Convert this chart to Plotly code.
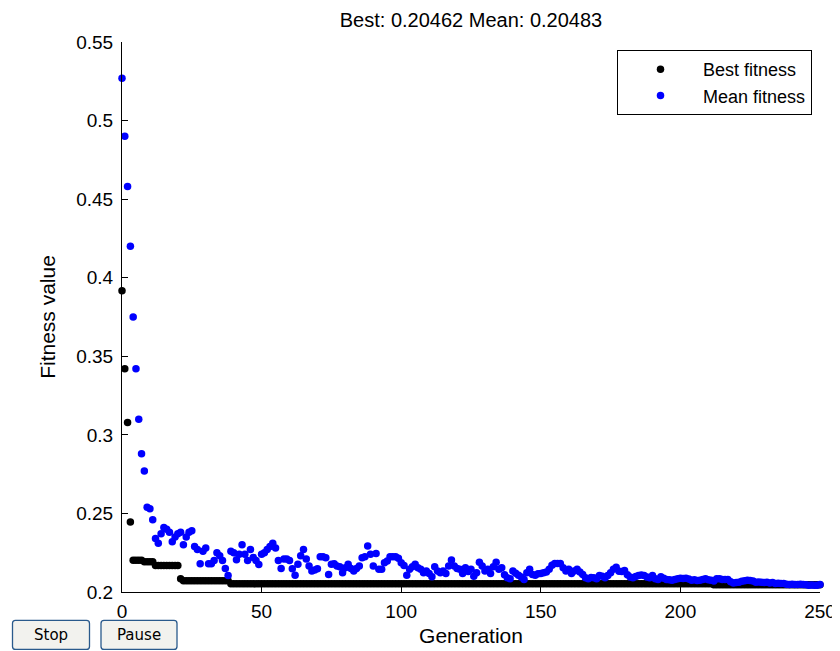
import plotly.graph_objects as go

title_text = "Best: 0.20462 Mean: 0.20483"
x_ticks = [0, 50, 100, 150, 200, 250]
y_ticks = [0.2, 0.25, 0.3, 0.35, 0.4, 0.45, 0.5, 0.55]
y_tick_labels = ["0.2", "0.25", "0.3", "0.35", "0.4", "0.45", "0.5", "0.55"]
button_labels = ["Stop", "Pause"]

generations = list(range(0, 251))

best_fitness = [
    0.3917, 0.3420, 0.3078, 0.2445, 0.2202, 0.2202, 0.2202, 0.2202, 0.2192, 0.2192,
    0.2192, 0.2192, 0.2168, 0.2168, 0.2168, 0.2168, 0.2168, 0.2168, 0.2168, 0.2168,
    0.2168, 0.2085, 0.2072, 0.2072, 0.2072, 0.2072, 0.2072, 0.2072, 0.2072, 0.2072,
    0.2072, 0.2072, 0.2072, 0.2072, 0.2072, 0.2072, 0.2072, 0.2072, 0.2072, 0.2052,
    0.2052, 0.2052, 0.2052, 0.2052, 0.2052, 0.2052, 0.2052, 0.2052, 0.2052, 0.2052,
    0.2052, 0.2052, 0.2052, 0.2052, 0.2052, 0.2052, 0.2052, 0.2052, 0.2052, 0.2052,
    0.2052, 0.2052, 0.2052, 0.2052, 0.2052, 0.2052, 0.2052, 0.2052, 0.2052, 0.2052,
    0.2052, 0.2052, 0.2052, 0.2052, 0.2052, 0.2052, 0.2052, 0.2052, 0.2052, 0.2052,
    0.2052, 0.2052, 0.2052, 0.2052, 0.2052, 0.2052, 0.2052, 0.2052, 0.2052, 0.2052,
    0.2052, 0.2052, 0.2052, 0.2052, 0.2052, 0.2052, 0.2052, 0.2052, 0.2052, 0.2052,
    0.2052, 0.2052, 0.2052, 0.2052, 0.2052, 0.2052, 0.2052, 0.2052, 0.2052, 0.2052,
    0.2052, 0.2052, 0.2052, 0.2052, 0.2052, 0.2052, 0.2052, 0.2052, 0.2052, 0.2052,
    0.2052, 0.2052, 0.2052, 0.2052, 0.2052, 0.2052, 0.2052, 0.2052, 0.2052, 0.2052,
    0.2052, 0.2052, 0.2052, 0.2052, 0.2052, 0.2052, 0.2052, 0.2052, 0.2052, 0.2052,
    0.2052, 0.2052, 0.2052, 0.2052, 0.2052, 0.2052, 0.2052, 0.2052, 0.2052, 0.2052,
    0.2052, 0.2052, 0.2052, 0.2052, 0.2052, 0.2052, 0.2052, 0.2052, 0.2052, 0.2052,
    0.2052, 0.2052, 0.2052, 0.2052, 0.2052, 0.2052, 0.2052, 0.2052, 0.2052, 0.2052,
    0.2052, 0.2052, 0.2052, 0.2052, 0.2052, 0.2052, 0.2052, 0.2052, 0.2052, 0.2052,
    0.2052, 0.2052, 0.2052, 0.2052, 0.2052, 0.2052, 0.2052, 0.2052, 0.2052, 0.2052,
    0.2052, 0.2052, 0.2052, 0.2052, 0.2052, 0.2052, 0.2052, 0.2052, 0.2052, 0.2052,
    0.2052, 0.2052, 0.2052, 0.2052, 0.2052, 0.2052, 0.2052, 0.2052, 0.2052, 0.2052,
    0.2052, 0.2052, 0.20462, 0.20462, 0.20462, 0.20462, 0.20462, 0.20462, 0.20462, 0.20462,
    0.20462, 0.20462, 0.20462, 0.20462, 0.20462, 0.20462, 0.20462, 0.20462, 0.20462, 0.20462,
    0.20462, 0.20462, 0.20462, 0.20462, 0.20462, 0.20462, 0.20462, 0.20462, 0.20462, 0.20462,
    0.20462, 0.20462, 0.20462, 0.20462, 0.20462, 0.20462, 0.20462, 0.20462, 0.20462, 0.20462,
    0.20462,
]

mean_fitness = [
    0.527, 0.490, 0.458, 0.420, 0.375, 0.342, 0.310, 0.288, 0.277, 0.254,
    0.253, 0.246, 0.234, 0.231, 0.237, 0.241, 0.240, 0.238, 0.232, 0.235,
    0.237, 0.238, 0.230, 0.235, 0.238, 0.239, 0.229, 0.227, 0.218, 0.226,
    0.228, 0.218, 0.218, 0.220, 0.225, 0.223, 0.220, 0.215, 0.2105, 0.226,
    0.225, 0.2205, 0.224, 0.230, 0.224, 0.220, 0.227, 0.222, 0.220, 0.2175,
    0.224, 0.225, 0.227, 0.229, 0.231, 0.228, 0.220, 0.215, 0.221, 0.221,
    0.220, 0.2148, 0.2106, 0.2176, 0.223, 0.227, 0.221, 0.2165, 0.2133, 0.214,
    0.2148, 0.2225, 0.2225, 0.2218, 0.2112, 0.2176, 0.218, 0.2165, 0.216, 0.2123,
    0.2155, 0.2176, 0.215, 0.2133, 0.215, 0.2165, 0.2218, 0.2225, 0.2292, 0.224,
    0.2165, 0.2245, 0.2144, 0.2144, 0.2186, 0.2197, 0.2225, 0.2225, 0.2225, 0.2215,
    0.2186, 0.2169, 0.2106, 0.2144, 0.2160, 0.2176, 0.2155, 0.2144, 0.2123, 0.2133,
    0.2118, 0.2097, 0.2161, 0.2133, 0.2123, 0.2133, 0.2118, 0.2165, 0.2203, 0.2165,
    0.2150, 0.2144, 0.2118, 0.2155, 0.2130, 0.2144, 0.2101, 0.2123, 0.2190, 0.2165,
    0.2133, 0.2144, 0.2118, 0.2160, 0.2190, 0.2144, 0.2155, 0.2110, 0.2090, 0.2085,
    0.2133, 0.2120, 0.2106, 0.2095, 0.2080, 0.2123, 0.2144, 0.2112, 0.2106, 0.2116,
    0.2118, 0.2123, 0.2127, 0.2144, 0.2170, 0.2182, 0.2182, 0.2182, 0.2155, 0.2133,
    0.2144, 0.2118, 0.2133, 0.2144, 0.2127, 0.2112, 0.2090, 0.2085, 0.2092, 0.2090,
    0.2085, 0.2105, 0.2100, 0.2090, 0.2105, 0.2122, 0.2145, 0.2158, 0.2132, 0.2130,
    0.2137, 0.2110, 0.2095, 0.2090, 0.2098, 0.2105, 0.2108, 0.2105, 0.2095, 0.2090,
    0.2105, 0.2085, 0.2079, 0.2097, 0.2088, 0.2079, 0.2078, 0.2075, 0.2080, 0.2084,
    0.2088, 0.2086, 0.2088, 0.2082, 0.2075, 0.2078, 0.2073, 0.2075, 0.2080, 0.2084,
    0.2078, 0.2075, 0.2070, 0.2084, 0.2084, 0.2080, 0.2079, 0.2079, 0.2065, 0.2058,
    0.2060, 0.2062, 0.2068, 0.2072, 0.2075, 0.2073, 0.2070, 0.2062, 0.2064, 0.2062,
    0.2060, 0.2062, 0.2058, 0.2060, 0.2054, 0.2056, 0.2054, 0.2054, 0.2050, 0.2048,
    0.2050, 0.2048, 0.2048, 0.2050, 0.2048, 0.2046, 0.2043, 0.2045, 0.2043, 0.2043,
    0.20483,
]

assert len(best_fitness) == len(generations) == len(mean_fitness)

FONT = "Liberation Sans, Arial, Helvetica, sans-serif"

fig = go.Figure()
fig.add_trace(go.Scatter(
    x=generations, y=best_fitness, mode="markers", name="Best fitness",
    marker=dict(color="#000000", size=7.5), cliponaxis=False,
))
fig.add_trace(go.Scatter(
    x=generations, y=mean_fitness, mode="markers", name="Mean fitness",
    marker=dict(color="#0000ff", size=7.5), cliponaxis=False,
))

# The page body has an 8px default margin: build the figure 8px smaller and
# express every position in window pixels, shifted by that offset.
OFF = 8
W, H = 840 - OFF, 651 - OFF
L = 122 - OFF
T = 42 - OFF
R = W - (820 - OFF)
B = H - (592.5 - OFF)
pw, ph = W - L - R, H - T - B


def px_x(px):
    return (px - OFF - L) / pw


def px_y(py):
    return (H - B - (py - OFF)) / ph


def rounded_rect(x0, x1, y0, y1, r=3):
    rx, ry = r / pw, r / ph
    return (f"M {x0 + rx},{y0} L {x1 - rx},{y0} Q {x1},{y0} {x1},{y0 + ry} "
            f"L {x1},{y1 - ry} Q {x1},{y1} {x1 - rx},{y1} L {x0 + rx},{y1} "
            f"Q {x0},{y1} {x0},{y1 - ry} L {x0},{y0 + ry} Q {x0},{y0} {x0 + rx},{y0} Z")


button_spans = [(12.5, 89.5), (101, 177)]
for label, (bx0, bx1) in zip(button_labels, button_spans):
    fig.add_shape(type="path", xref="paper", yref="paper",
                  path=rounded_rect(px_x(bx0), px_x(bx1), px_y(650), px_y(621)),
                  fillcolor="#f2f2ee", line=dict(color="#2a5a8c", width=1.3))
    fig.add_annotation(xref="paper", yref="paper", x=px_x((bx0 + bx1) / 2), y=px_y(636),
                       text=label, showarrow=False, xanchor="center", yanchor="middle",
                       font=dict(family="DejaVu Sans, sans-serif", size=15, color="#000000"))

fig.update_layout(
    width=W, height=H,
    margin=dict(l=L, r=R, t=T, b=B, pad=0, autoexpand=False),
    paper_bgcolor="#ffffff", plot_bgcolor="#ffffff",
    font=dict(family=FONT, size=19, color="#000000"),
    title=dict(text=title_text, x=px_x(471), xref="paper", xanchor="center",
               y=(H - (20 - OFF)) / H, yref="container", yanchor="middle",
               pad=dict(t=0, b=0), font=dict(size=20)),
    showlegend=True,
    legend=dict(x=px_x(617), y=px_y(50), xanchor="left", yanchor="top",
                bordercolor="#000000", borderwidth=1, bgcolor="#ffffff",
                font=dict(size=18), itemwidth=75),
    xaxis=dict(range=[0, 250], tickvals=x_ticks, ticktext=[str(v) for v in x_ticks],
               showline=True, linecolor="#000000", linewidth=1, ticks="inside",
               ticklen=6, tickcolor="#000000", showgrid=False, zeroline=False,
               ticklabelstandoff=2, automargin=False,
               title=dict(text="Generation", standoff=7, font=dict(size=21)),
               tickfont=dict(size=19)),
    yaxis=dict(range=[0.2, 0.55], tickvals=y_ticks, ticktext=y_tick_labels,
               showline=True, linecolor="#000000", linewidth=1, ticks="inside",
               ticklen=6, tickcolor="#000000", showgrid=False, zeroline=False,
               ticklabelstandoff=4, automargin=False,
               title=dict(text="Fitness value", standoff=14, font=dict(size=21)),
               tickfont=dict(size=19)),
)

fig.write_html("out.html")
